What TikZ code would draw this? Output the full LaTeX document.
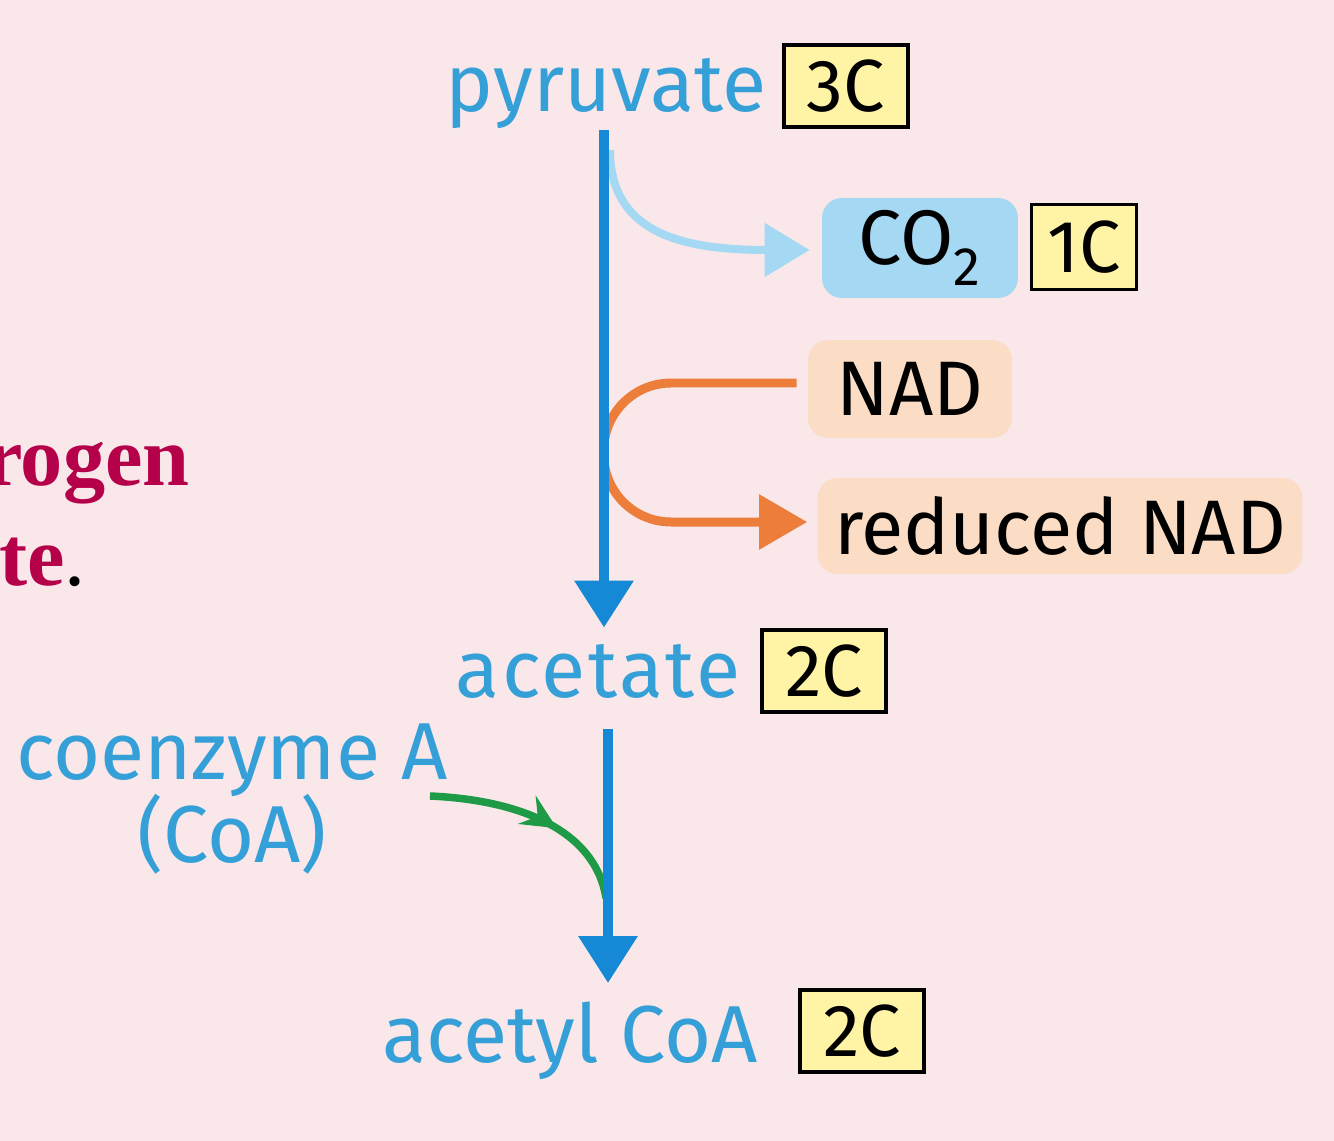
\documentclass[tikz,border=0pt]{standalone}
\usepackage{fontspec}
\setmainfont{Fira Sans}
\newfontfamily\serifbold{Liberation Serif}
\usetikzlibrary{arrows.meta,decorations.markings,calc}
\definecolor{bg}{HTML}{F9E7EA}
\definecolor{tblue}{HTML}{35A0D8}
\definecolor{mblue}{HTML}{1689D6}
\definecolor{lblue}{HTML}{A5D8F3}
\definecolor{cyellow}{HTML}{FFF4A6}
\definecolor{peach}{HTML}{FBDDC6}
\definecolor{orng}{HTML}{EC7D3A}
\definecolor{grn}{HTML}{1F9A47}
\definecolor{crim}{HTML}{B5004A}
\tikzset{
  lbl/.style={text=tblue, font=\fontsize{46}{50}\selectfont, inner sep=0pt},
  cbox/.style={draw=black, line width=0.07cm, fill=cyellow, minimum width=2.48cm,
    minimum height=1.64cm, inner sep=0pt, font=\fontsize{42}{50}\selectfont},
  rbox/.style={rounded corners=0.4cm, inner sep=0pt, font=\fontsize{44}{50}\selectfont},
  mainarrow/.style={draw=mblue, line width=0.2cm, -{Triangle[width=1.14cm,length=0.94cm]}},
  co2arrow/.style={draw=lblue, line width=0.16cm, -{Triangle[width=1.04cm,length=0.9cm]}},
  nadarrow/.style={draw=orng, line width=0.18cm, -{Triangle[width=1.06cm,length=0.96cm]}},
  coaarrow/.style={draw=grn, line width=0.15cm, postaction={decorate},
    decoration={markings, mark=at position 0.6 with {\arrow[grn]{Stealth[length=0.7cm,width=0.66cm,inset=0.25cm]}}}},
  sidetext/.style={text=crim, font=\serifbold\bfseries\fontsize{48}{56}\selectfont, inner sep=0pt}
}
\begin{document}
\begin{tikzpicture}[x=0.02cm,y=-0.02cm]
\useasboundingbox (0,0) rectangle (1334,1141);
\clip (0,0) rectangle (1334,1141);
\fill[bg] (0,0) rectangle (1334,1141);

% left cut-off text
\node[sidetext, anchor=base east] (side1) at (190,485) {rogen};
\node[sidetext, anchor=base east] (side2) at (86,585) {te\textcolor{black}{\mdseries.}};

% labels
\node[lbl, anchor=base] (pyr) at (606,112) {pyruvate};
\node[cbox] (c3) at (846,86) {3C};
\node[rbox, fill=lblue, minimum width=3.92cm, minimum height=2.0cm] (co2) at (920,248) {CO\textsubscript{2}};
\node[cbox, minimum width=2.1cm, minimum height=1.7cm] (c1) at (1084,247) {1C};
\node[rbox, fill=peach, minimum width=4.08cm, minimum height=1.96cm] (nad) at (910,389) {NAD};
\node[rbox, fill=peach, minimum width=9.7cm, minimum height=1.92cm] (rnad) at (1060,526) {reduced NAD};
\node[lbl, anchor=base] (ace) at (598,697) {\addfontfeature{LetterSpace=3}acetate};
\node[cbox] (c2a) at (824,671) {2C};
\node[lbl, align=center, anchor=base] (coa) at (232,862) {coenzyme A\\[-0.1cm](CoA)};
\node[lbl, anchor=base] (acoa) at (570,1062) {acetyl CoA};
\node[cbox] (c2b) at (862,1031) {2C};

\coordinate (co2start) at (610,150);
\coordinate (gstart) at (430,796);
\coordinate (gend) at (606,898);

% arrows
\draw[co2arrow] (co2start) .. controls (610,232) and (680,250) .. ([xshift=-0.24cm,yshift=-0.04cm]co2.west);
\draw[nadarrow, rounded corners=1.35cm] ([xshift=-0.22cm,yshift=0.12cm]nad.west) -- ++(-193,0) |- ([xshift=-0.2cm,yshift=0.08cm]rnad.west);
\draw[mainarrow] ([xshift=-0.04cm]pyr.south) -- ([xshift=-0.04cm,yshift=0.32cm]pyr.south |- ace.north);
\draw[coaarrow] (gstart) .. controls (520,800) and (595,830) .. (gend);
\draw[mainarrow] ($(ace.south)+(10,31)$) -- ($(ace.south |- acoa.north)+(10,-18)$);
\end{tikzpicture}
\end{document}
